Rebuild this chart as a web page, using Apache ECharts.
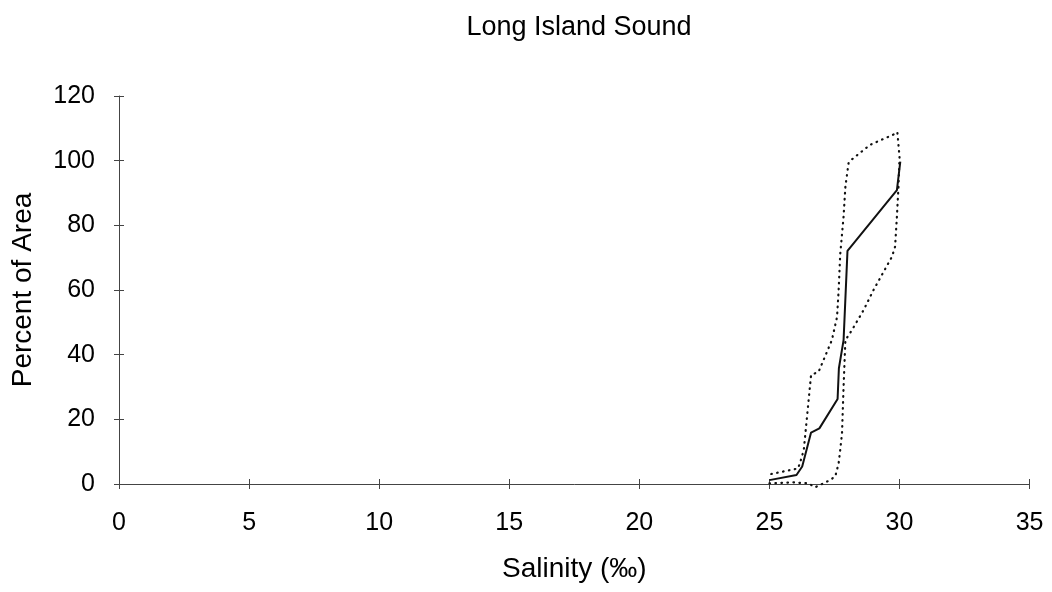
<!DOCTYPE html>
<html>
<head>
<meta charset="utf-8">
<script src="https://cdn.jsdelivr.net/npm/echarts@6/dist/echarts.min.js"></script>
<style>html,body{margin:0;padding:0;background:#fff}#c{width:1052px;height:592px}</style>
</head>
<body>
<div id="c"></div>
<script>
const titleText = 'Long Island Sound';
const xName = 'Salinity (‰)';
const yName = 'Percent of Area';
const xTicks = [0, 5, 10, 15, 20, 25, 30, 35];
const yTicks = [0, 20, 40, 60, 80, 100, 120];

const salinityMean = [25.0, 26.04, 26.26, 26.6, 26.92, 27.62, 27.67, 27.85, 28.0, 29.9, 30.03];
const percentMean  = [1.2, 2.8, 5.4, 15.9, 17.2, 26.3, 35.8, 44.5, 72.1, 90.9, 99.7];

const salinityUpper = [25.07, 26.1, 26.19, 26.32, 26.6, 26.89, 27.4, 27.6, 27.66, 27.72, 27.85, 27.92, 28.04, 28.17, 28.87, 29.83, 29.92];
const percentUpper  = [3.1, 4.8, 6.9, 10.5, 33.7, 34.7, 44.5, 51.7, 60, 71, 82.7, 92, 99.2, 100.4, 104.9, 108.3, 108.5];

const salinityLower = [25.0, 25.92, 26.49, 26.76, 27.02, 27.28, 27.53, 27.66, 27.72, 27.79, 27.85, 27.92, 28.17, 28.62, 29.0, 29.71, 29.83, 29.9, 29.96, 30.0, 29.92];
const percentLower  = [0.2, 0.5, 0.2, -1, 0, 1, 2.3, 6.4, 10.5, 15.7, 30.1, 44.5, 47.6, 53.8, 60, 70.3, 73.4, 82.7, 92, 101.2, 108.5];

const pairs = (xs, ys) => xs.map((x, i) => [x, ys[i]]);
const FONT = '"Liberation Sans", Arial, sans-serif';
const AXIS_COLOR = '#444';

const chart = echarts.init(document.getElementById('c'), null, {renderer: 'canvas'});
const xMin = xTicks[0], xMax = xTicks[xTicks.length - 1];
const yMin = yTicks[0], yMax = yTicks[yTicks.length - 1];
const xInt = xTicks[1] - xTicks[0], yInt = yTicks[1] - yTicks[0];
const dotted = {color: '#111', width: 2.2, type: [0.6, 5.4], cap: 'round'};

chart.setOption({
  animation: false,
  backgroundColor: '#fff',
  title: {
    text: titleText, left: 574, top: 9, textAlign: 'center',
    textStyle: {fontFamily: FONT, fontSize: 27, fontWeight: 'normal', color: '#000'}
  },
  grid: {left: 119, right: 22.4, top: 96, bottom: 108, containLabel: false},
  xAxis: [{
    type: 'value', min: xMin, max: xMax, interval: xInt, position: 'bottom',
    name: xName, nameLocation: 'middle', nameGap: 71,
    nameTextStyle: {fontFamily: FONT, fontSize: 28, color: '#000'},
    axisLine: {show: true, onZero: false, lineStyle: {color: AXIS_COLOR, width: 1}},
    axisTick: {show: true, length: 5, lineStyle: {color: AXIS_COLOR}},
    axisLabel: {fontFamily: FONT, fontSize: 25, color: '#000', margin: 27},
    splitLine: {show: false}
  }, {
    type: 'value', min: xMin, max: xMax, interval: xInt, position: 'bottom',
    axisLine: {show: false, onZero: false},
    axisTick: {show: true, inside: true, length: 5, lineStyle: {color: AXIS_COLOR}},
    axisLabel: {show: false}, splitLine: {show: false}
  }],
  yAxis: [{
    type: 'value', min: yMin, max: yMax, interval: yInt, position: 'left',
    name: yName, nameLocation: 'middle', nameGap: 82, nameRotate: 90,
    nameTextStyle: {fontFamily: FONT, fontSize: 28, color: '#000'},
    axisLine: {show: true, onZero: false, lineStyle: {color: AXIS_COLOR, width: 1}},
    axisTick: {show: true, length: 5, lineStyle: {color: AXIS_COLOR}},
    axisLabel: {fontFamily: FONT, fontSize: 25, color: '#000', margin: 24},
    splitLine: {show: false}
  }, {
    type: 'value', min: yMin, max: yMax, interval: yInt, position: 'left',
    axisLine: {show: false, onZero: false},
    axisTick: {show: true, inside: true, length: 5, lineStyle: {color: AXIS_COLOR}},
    axisLabel: {show: false}, splitLine: {show: false}
  }],
  series: [{
    name: 'Mean', type: 'line', xAxisIndex: 0, yAxisIndex: 0,
    data: pairs(salinityMean, percentMean), symbol: 'none', clip: false,
    lineStyle: {color: '#111', width: 2}
  }, {
    name: 'Upper', type: 'line', xAxisIndex: 0, yAxisIndex: 0,
    data: pairs(salinityUpper, percentUpper), symbol: 'none', clip: false,
    lineStyle: dotted
  }, {
    name: 'Lower', type: 'line', xAxisIndex: 0, yAxisIndex: 0,
    data: pairs(salinityLower, percentLower), symbol: 'none', clip: false,
    lineStyle: dotted
  }]
});
</script>
</body>
</html>
